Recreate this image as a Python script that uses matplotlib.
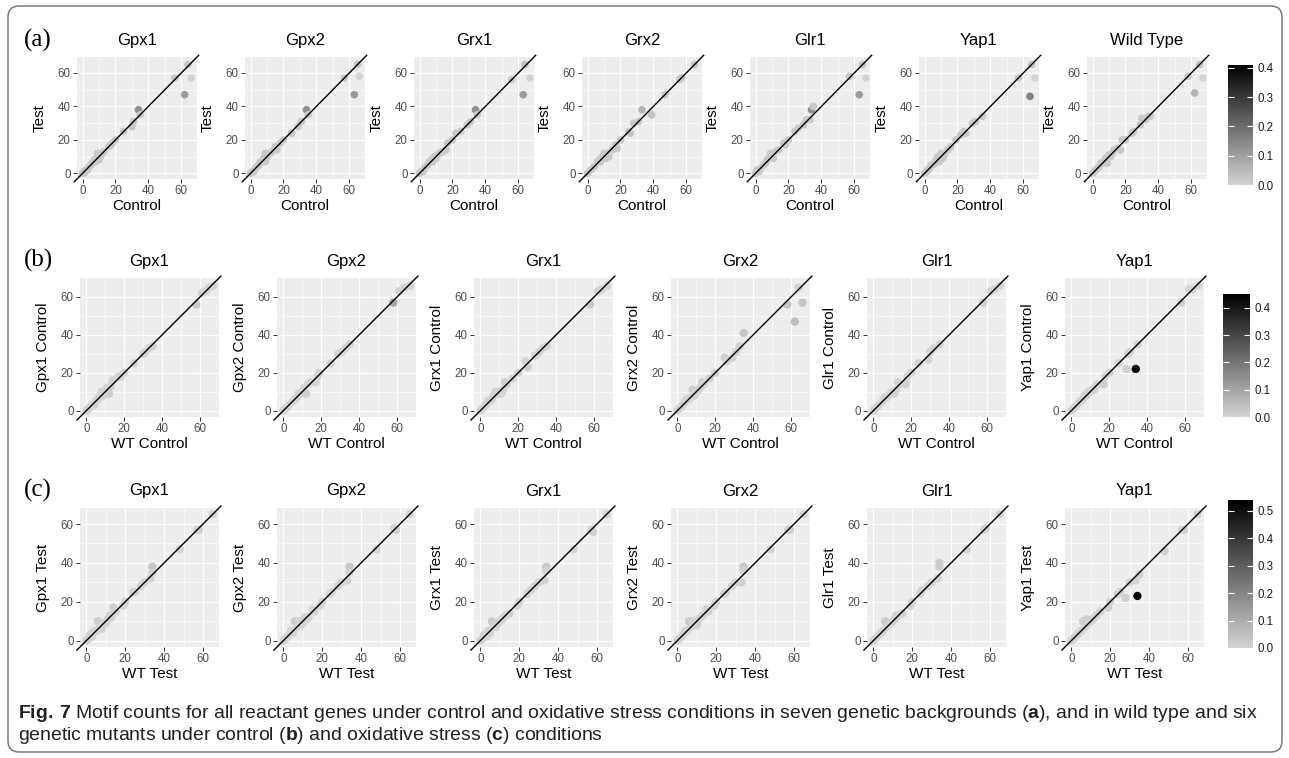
import matplotlib
matplotlib.use('Agg')
import matplotlib.pyplot as plt
from matplotlib.colors import LinearSegmentedColormap, Normalize
from matplotlib.patches import FancyBboxPatch
import matplotlib.cm as cm

W, H = 1289, 758
plt.rcParams['font.family'] = ['Liberation Sans', 'DejaVu Sans']
plt.rcParams['mathtext.fontset'] = 'custom'
plt.rcParams['mathtext.rm'] = 'Liberation Sans'
plt.rcParams['mathtext.bf'] = 'Liberation Sans:bold'

# ---- data: (x, y, shade) per panel ----
# row (a): Control vs Test in seven backgrounds
a_gpx1 = [(0,0,.02),(1,1,.02),(1,0,.02),(2,2,.02),(3,2,.02),(4,4,.02),(5,5,.02),(6,6,.02),(7,8,.02),(8,7,.02),
          (9,12,.02),(9,9,.02),(10,8,.02),(10,11,.02),(11,10,.02),(12,12,.02),(13,13,.02),(16,16,.02),(17,17,.02),
          (18,18,.02),(20,20,.02),(25,25,.02),(30,28,.03),(31,31,.02),(34,38,.13),(35,35,.02),(56,57,.02),
          (62,47,.11),(64,65,.03),(66,57,.0)]
a_gpx2 = [(0,0,.02),(1,1,.02),(2,1,.02),(3,3,.02),(4,4,.02),(5,5,.02),(6,7,.02),(7,7,.02),(8,9,.02),(9,12,.02),
          (9,7,.02),(10,10,.02),(12,12,.02),(13,13,.02),(15,16,.02),(16,14,.02),(18,18,.02),(20,20,.02),(25,24,.03),
          (29,28,.02),(31,31,.02),(34,38,.13),(35,35,.02),(57,57,.02),(63,47,.11),(65,65,.03),(66,58,.0)]
a_grx1 = [(0,0,.02),(1,1,.02),(2,1,.02),(3,3,.02),(5,5,.02),(6,7,.02),(7,8,.02),(8,7,.02),(9,10,.02),(10,9,.02),
          (11,11,.02),(12,12,.02),(14,13,.02),(16,14,.02),(17,18,.02),(20,20,.02),(22,24,.02),(25,25,.02),
          (29,29,.02),(31,31,.02),(34,38,.13),(35,35,.02),(56,56,.02),(63,47,.11),(64,65,.03),(67,57,.0)]
a_grx2 = [(0,0,.02),(2,2,.02),(4,4,.02),(6,7,.02),(7,8,.02),(8,7,.02),(9,10,.02),(10,12,.02),(12,12,.02),
          (11,9,.02),(13,10,.02),(15,14,.02),(17,17,.02),(18,15,.02),(20,20,.02),(25,25,.02),(26,24,.03),
          (28,30,.02),(31,31,.02),(33,38,.06),(39,35,.03),(47,47,.02),(56,56,.02),(57,57,.02),(65,65,.03)]
a_glr1 = [(0,0,.02),(1,2,.02),(2,1,.02),(3,3,.02),(5,5,.02),(6,6,.02),(7,8,.02),(8,9,.02),(9,12,.02),(10,10,.02),
          (11,9,.02),(12,13,.02),(14,14,.02),(17,18,.02),(18,17,.02),(20,20,.02),(24,25,.02),(26,27,.02),
          (29,29,.02),(31,32,.02),(33,32,.02),(34,38,.13),(35,40,.02),(57,58,.02),(63,47,.11),(65,65,.03),(67,57,.0)]
a_yap1 = [(0,0,.02),(1,1,.02),(2,2,.02),(3,3,.02),(4,5,.02),(5,5,.02),(6,6,.02),(7,8,.02),(8,10,.02),(9,7,.02),
          (10,12,.02),(11,9,.02),(12,11,.02),(14,14,.02),(16,16,.02),(19,20,.02),(22,23,.02),(24,25,.02),
          (25,24,.02),(29,30,.02),(31,31,.02),(35,34,.02),(57,57,.02),(64,46,.16),(65,65,.03),(67,57,.0)]
a_wt = [(0,0,.02),(1,1,.02),(2,2,.02),(3,3,.02),(4,4,.02),(5,6,.02),(6,6,.02),(7,7,.02),(8,9,.02),(9,6,.02),
        (10,11,.02),(11,10,.02),(12,12,.02),(13,14,.02),(15,15,.02),(17,14,.02),(18,20,.02),(20,20,.02),
        (24,24,.02),(25,25,.02),(29,29,.02),(30,33,.02),(32,32,.02),(34,34,.02),(35,34,.02),(58,58,.02),
        (62,48,.06),(65,65,.03),(67,57,.0)]

# row (b): WT Control vs mutant Control
b_gpx1 = [(0,0,.0),(1,1,.0),(2,2,.0),(3,3,.0),(4,3,.0),(5,5,.0),(6,6,.0),(7,7,.0),(8,10,.0),(9,8,.0),(10,9,.0),
          (11,12,.0),(12,9,.01),(13,13,.0),(14,16,.0),(17,18,.0),(18,18,.0),(20,20,.0),(25,25,.0),(30,30,.0),
          (31,31,.0),(33,33,.0),(35,34,.0),(58,56,.02),(61,62,.0),(63,63,.0),(65,65,.0),(67,66,.0)]
b_gpx2 = [(0,0,.0),(1,1,.0),(2,2,.0),(3,3,.0),(5,5,.0),(6,6,.0),(7,7,.0),(8,9,.0),(9,9,.0),(10,10,.0),
          (11,12,.0),(12,9,.01),(13,14,.0),(14,15,.0),(17,15,.0),(18,18,.0),(19,20,.0),(25,25,.0),(29,30,.0),
          (31,31,.0),(33,33,.0),(35,35,.0),(58,57,.1),(61,63,.0),(64,65,.0),(67,66,.0)]
b_grx1 = [(0,0,.0),(1,1,.0),(2,2,.0),(3,3,.0),(4,5,.0),(5,5,.0),(6,6,.0),(7,8,.0),(8,10,.0),(9,9,.0),
          (10,10,.0),(11,9,.0),(12,11,.0),(13,15,.0),(14,14,.0),(17,17,.0),(20,20,.0),(24,26,.0),(25,23,.01),
          (29,29,.0),(31,31,.0),(33,33,.0),(35,34,.0),(58,56,.02),(62,63,.0),(64,64,.0),(67,66,.0)]
b_grx2 = [(0,0,.0),(1,1,.0),(2,2,.0),(3,3,.0),(4,5,.0),(5,6,.0),(6,6,.0),(7,7,.0),(8,11,.01),(9,8,.0),
          (10,10,.0),(11,11,.0),(12,12,.0),(13,15,.0),(14,14,.0),(17,17,.0),(20,20,.0),(25,28,.01),(26,26,.0),
          (29,28,.0),(31,31,.0),(33,34,.0),(35,41,.03),(58,56,.03),(62,47,.05),(64,65,.0),(66,57,.03)]
b_glr1 = [(0,0,.0),(1,1,.0),(2,2,.0),(3,3,.0),(5,5,.0),(6,7,.0),(7,7,.0),(8,8,.0),(9,9,.0),(10,10,.0),
          (11,9,.0),(12,11,.0),(13,15,.0),(14,14,.0),(17,14,.01),(18,18,.0),(20,20,.0),(24,25,.0),(29,27,.0),
          (30,31,.0),(32,33,.0),(35,35,.0),(58,57,.01),(62,63,.0),(64,64,.0),(67,66,.0)]
b_yap1 = [(0,0,.0),(1,1,.0),(2,2,.0),(3,3,.0),(4,4,.0),(5,5,.0),(6,6,.0),(7,8,.0),(8,8,.0),(9,10,.0),
          (10,10,.0),(11,11,.0),(12,11,.0),(13,13,.0),(14,14,.0),(17,14,.01),(18,18,.0),(20,20,.0),(25,25,.0),
          (29,22,.01),(30,30,.0),(31,31,.0),(34,22,.45),(35,35,.0),(58,57,.01),(62,64,.0),(64,64,.0),(67,66,.0)]

# row (c): WT Test vs mutant Test
c_gpx1 = [(0,0,.0),(1,1,.0),(2,3,.0),(3,2,.0),(4,5,.0),(5,5,.0),(6,10,.02),(7,7,.0),(8,6,.0),(9,9,.0),
          (10,9,.0),(11,11,.0),(12,13,.0),(13,12,.0),(14,17,.01),(15,15,.0),(19,18,.0),(20,20,.0),(24,25,.0),
          (25,25,.0),(28,28,.0),(30,30,.0),(33,32,.0),(34,38,.03),(34,35,.0),(48,47,.0),(57,57,.0),
          (58,57,.01),(65,65,.0)]
c_gpx2 = [(0,0,.0),(1,1,.0),(2,2,.0),(3,3,.0),(4,5,.0),(5,4,.0),(6,10,.02),(7,7,.0),(8,10,.0),(9,8,.0),
          (10,9,.0),(11,12,.0),(12,11,.0),(13,12,.0),(15,16,.0),(16,15,.0),(19,18,.0),(20,20,.0),(24,24,.0),
          (25,25,.0),(28,28,.0),(30,30,.0),(33,31,.0),(34,38,.03),(34,35,.0),(48,47,.0),(57,58,.0),
          (58,57,.01),(65,65,.0)]
c_grx1 = [(0,0,.0),(1,1,.0),(2,3,.0),(3,2,.0),(4,5,.0),(5,4,.0),(6,10,.02),(7,8,.0),(8,7,.0),(9,9,.0),
          (10,10,.0),(11,11,.0),(12,12,.0),(13,13,.0),(15,14,.0),(19,18,.0),(20,20,.0),(24,24,.0),(26,26,.0),
          (28,28,.0),(30,30,.0),(33,31,.0),(34,38,.03),(34,36,.0),(48,47,.0),(57,57,.0),(58,56,.01),(65,65,.0)]
c_grx2 = [(0,0,.0),(1,1,.0),(2,2,.0),(3,3,.0),(4,5,.0),(5,5,.0),(6,10,.02),(7,7,.0),(8,10,.0),(9,9,.0),
          (10,8,.0),(11,11,.0),(12,12,.0),(13,13,.0),(15,16,.0),(16,15,.0),(19,18,.0),(20,20,.0),(24,24,.0),
          (25,25,.0),(28,28,.0),(30,30,.0),(33,30,.01),(34,38,.03),(34,36,.0),(48,47,.0),(57,57,.0),
          (58,57,.01),(65,65,.0)]
c_glr1 = [(0,0,.0),(1,1,.0),(2,2,.0),(3,3,.0),(4,4,.0),(5,5,.0),(6,10,.02),(7,7,.0),(8,8,.0),(9,9,.0),
          (10,10,.0),(11,11,.0),(12,13,.0),(13,13,.0),(15,14,.0),(19,18,.0),(20,20,.0),(24,24,.0),(25,26,.0),
          (28,28,.0),(30,30,.0),(33,32,.0),(34,40,.02),(34,38,.02),(48,47,.0),(57,57,.0),(58,58,.0),(65,65,.0)]
c_yap1 = [(0,0,.0),(1,1,.0),(2,2,.0),(3,3,.0),(4,4,.0),(5,5,.0),(6,10,.01),(7,7,.0),(8,11,.02),(9,9,.0),
          (10,10,.0),(11,11,.0),(12,12,.0),(13,13,.0),(15,15,.0),(19,17,.01),(20,20,.0),(24,24,.0),(25,25,.0),
          (28,22,.01),(30,30,.0),(33,31,.0),(34,23,.53),(35,34,.0),(48,46,.01),(57,57,.0),(58,57,.0),(65,65,.0)]

row_a_titles = ['Gpx1', 'Gpx2', 'Grx1', 'Grx2', 'Glr1', 'Yap1', 'Wild Type']
row_a_data = [a_gpx1, a_gpx2, a_grx1, a_grx2, a_glr1, a_yap1, a_wt]
row_bc_titles = ['Gpx1', 'Gpx2', 'Grx1', 'Grx2', 'Glr1', 'Yap1']
row_b_data = [b_gpx1, b_gpx2, b_grx1, b_grx2, b_glr1, b_yap1]
row_c_data = [c_gpx1, c_gpx2, c_grx1, c_grx2, c_glr1, c_yap1]
cbar_a_ticks = [0.0, 0.1, 0.2, 0.3, 0.4]
cbar_b_ticks = [0.0, 0.1, 0.2, 0.3, 0.4]
cbar_c_ticks = [0.0, 0.1, 0.2, 0.3, 0.4, 0.5]

grey_cmap = LinearSegmentedColormap.from_list('greys', ['#D3D3D3', '#000000'])

fig = plt.figure(figsize=(W / 100, H / 100), dpi=100)

# background layer in pixel coordinates
bg = fig.add_axes([0, 0, 1, 1])
bg.set_xlim(0, W)
bg.set_ylim(H, 0)
bg.axis('off')
bg.add_patch(FancyBboxPatch((8, 6), 1274, 746, boxstyle='round,pad=0,rounding_size=11',
                            fc='none', ec='#7A7A7A', lw=1.1))


def px_axes(left, top, w, h):
    return fig.add_axes([left / W, 1 - (top + h) / H, w / W, h / H])


def panel(left, top, w, h, pts, vmax, lim, title, xlabel, ylabel, size):
    ax = px_axes(left, top, w, h)
    ax.set_facecolor('#EDEDED')
    xs = [p[0] for p in pts]
    ys = [p[1] for p in pts]
    cs = [p[2] for p in pts]
    ax.scatter(xs, ys, c=cs, cmap=grey_cmap, vmin=0, vmax=vmax, s=size, linewidths=0, zorder=3)
    lo, hi = lim
    ax.set_xlim(lo, hi)
    ax.set_ylim(lo, hi)
    ax.plot([lo - 1.6, hi + 1.0], [lo - 1.6, hi + 1.0], color='black', lw=1.0, clip_on=False, zorder=4)
    ax.set_xticks([0, 20, 40, 60])
    ax.set_yticks([0, 20, 40, 60])
    ax.set_xticks([10, 30, 50], minor=True)
    ax.set_yticks([10, 30, 50], minor=True)
    ax.grid(which='major', color='white', lw=0.85)
    ax.grid(which='minor', color='white', lw=0.45)
    ax.set_axisbelow(True)
    for s in ax.spines.values():
        s.set_visible(False)
    ax.tick_params(which='major', length=3, width=0.7, color='#333333', labelcolor='#4D4D4D',
                   labelsize=8.3, pad=1.5)
    ax.tick_params(which='minor', length=0)
    ax.set_title(title, fontsize=12, pad=9)
    ax.set_xlabel(xlabel, fontsize=11)
    ax.set_ylabel(ylabel, fontsize=11)
    ax.xaxis.set_label_coords(0.5, -27 / h)
    ax.xaxis.label.set_va('center')
    ax.yaxis.set_label_coords(-37 / w, 0.5)
    ax.yaxis.label.set_va('center')
    return ax


def cbar(left, top, w, h, vmax, ticks):
    cax = px_axes(left, top, w, h)
    cb = fig.colorbar(cm.ScalarMappable(norm=Normalize(0, vmax), cmap=grey_cmap), cax=cax, ticks=ticks)
    cb.outline.set_visible(False)
    cax.tick_params(direction='in', length=4.5, width=0.8, color='white', labelcolor='#1A1A1A',
                    labelsize=8.3, pad=3, left=True, right=True)
    cb.ax.set_yticklabels([f'{t:.1f}' for t in ticks])
    return cb


# row (a)
a_lefts = [77, 245, 414, 582, 750, 919, 1087]
for left, pts, title in zip(a_lefts, row_a_data, row_a_titles):
    panel(left, 57, 120, 122, pts, 0.41, (-3.35, 69.5), title, 'Control', 'Test', 30)
cbar(1228, 65, 25, 120, 0.41, cbar_a_ticks)

# row (b)
bc_lefts = [80, 277, 474, 671, 867, 1065]
for left, pts, title in zip(bc_lefts, row_b_data, row_bc_titles):
    panel(left, 278, 139, 139, pts, 0.45, (-3.35, 70.0), title, 'WT Control', title + ' Control', 36)
cbar(1223, 294, 27, 123, 0.45, cbar_b_ticks)

# row (c)
for left, pts, title in zip(bc_lefts, row_c_data, row_bc_titles):
    panel(left, 508, 139, 139, pts, 0.54, (-3.25, 68.25), title, 'WT Test', title + ' Test', 36)
cbar(1228, 500, 25, 148, 0.54, cbar_c_ticks)

# panel letters
for lab, y in [('(a)', 40), ('(b)', 260), ('(c)', 490)]:
    bg.text(24, y, lab, family='Liberation Serif', fontsize=18, va='center', ha='left')

# caption, scaled so that the first line spans the box like the original
cap1 = (r'$\mathbf{Fig.\,7}$ Motif counts for all reactant genes under control and oxidative stress conditions '
        r'in seven genetic backgrounds ($\mathbf{a}$), and in wild type and six')
cap2 = r'genetic mutants under control ($\mathbf{b}$) and oxidative stress ($\mathbf{c}$) conditions'
t1 = bg.text(18, 714, cap1, fontsize=12.3, va='center', ha='left', color='#231F20')
t2 = bg.text(18, 736, cap2, fontsize=12.3, va='center', ha='left', color='#231F20')
fig.canvas.draw()
w1 = t1.get_window_extent().width
fs = 12.3 * 1246 / w1
t1.set_fontsize(fs)
t2.set_fontsize(fs)

fig.savefig('out.png', dpi=100)
